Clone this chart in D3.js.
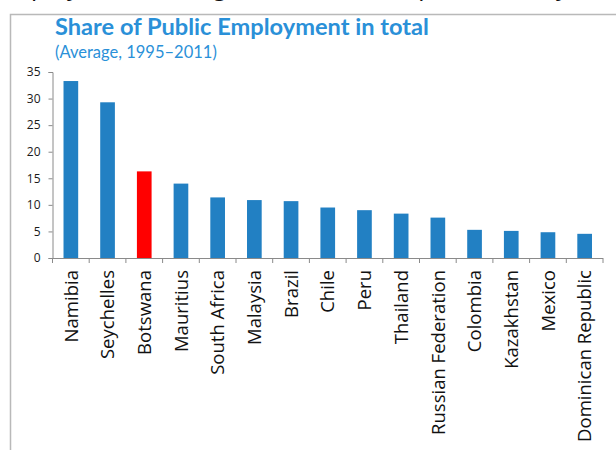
<!DOCTYPE html>
<html>
<head>
<meta charset="utf-8">
<script src="https://cdn.jsdelivr.net/npm/d3@7"></script>
<style>
  html, body { margin: 0; padding: 0; background: #ffffff; }
  svg { display: block; }
</style>
</head>
<body>
<svg id="chart" width="616" height="450"></svg>
<script>
// Share of public employment in total employment, average 1995–2011 (%)
const countries = [
  "Namibia", "Seychelles", "Botswana", "Mauritius", "South Africa",
  "Malaysia", "Brazil", "Chile", "Peru", "Thailand",
  "Russian Federation", "Colombia", "Kazakhstan", "Mexico", "Dominican Republic"
];
const shares = [33.3, 29.3, 16.3, 14.0, 11.4, 10.9, 10.7, 9.5, 9.0, 8.35, 7.6, 5.3, 5.1, 4.85, 4.55];
const highlighted = ["Botswana"];
const yTicks = [0, 5, 10, 15, 20, 25, 30, 35];
const titleText = "Share of Public Employment in total";
const subtitleText = "(Average, 1995–2011)";
const headingText = "employment among the countries to peers (survey)...";

const data = countries.map((c, i) => ({ country: c, value: shares[i] }));

const svg = d3.select("#chart");
const blue = "#2280c3";
const red = "#ff0000";
const axisGrey = "#8a8a8a";
const titleBlue = "#2a90d8";

// Slide heading running off the top edge
svg.append("text")
  .attr("x", -2).attr("y", -5)
  .attr("font-family", "Open Sans, sans-serif")
  .attr("font-style", "italic")
  .attr("font-size", 26)
  .attr("fill", "#111")
  .text(headingText);

// Frame around the chart panel
svg.append("path")
  .attr("d", "M10.5,450 V14.5 H616")
  .attr("fill", "none")
  .attr("stroke", "#b9b9b9")
  .attr("stroke-width", 1.5);

// Fit a text element to a given width by adjusting its font size
function fitWidth(sel, width) {
  const node = sel.node();
  const fs = parseFloat(sel.attr("font-size"));
  const w = node.getComputedTextLength();
  sel.attr("font-size", (fs * width / w).toFixed(2));
}

const title = svg.append("text")
  .attr("x", 55).attr("y", 35)
  .attr("font-family", "Lato, 'Open Sans', sans-serif")
  .attr("font-weight", "bold")
  .attr("font-size", 22)
  .attr("fill", titleBlue)
  .text(titleText);
fitWidth(title, 374);

const subtitle = svg.append("text")
  .attr("x", 55).attr("y", 57.5)
  .attr("font-family", "Lato, 'Open Sans', sans-serif")
  .attr("font-size", 15)
  .attr("fill", titleBlue)
  .text(subtitleText);
fitWidth(subtitle, 162);

// Scales
const x = d3.scaleBand()
  .domain(countries)
  .range([52.5, 603])
  .paddingInner(0.6)
  .paddingOuter(0.3);

const y = d3.scaleLinear()
  .domain([0, 35])
  .range([258, 72]);

// Bars
svg.append("g")
  .selectAll("rect")
  .data(data)
  .join("rect")
  .attr("x", d => x(d.country))
  .attr("y", d => y(d.value))
  .attr("width", x.bandwidth())
  .attr("height", d => y(0) - y(d.value))
  .attr("fill", d => highlighted.includes(d.country) ? red : blue);

// Y axis
const yAxis = svg.append("g")
  .attr("transform", "translate(52.5,0)")
  .call(d3.axisLeft(y).tickValues(yTicks).tickSize(4).tickPadding(8));
yAxis.select(".domain").attr("stroke", axisGrey);
yAxis.selectAll(".tick line").attr("stroke", axisGrey);
yAxis.selectAll(".tick text")
  .attr("font-family", "Open Sans, sans-serif")
  .attr("font-size", 12)
  .attr("fill", "#1a1a1a");

// X axis line and category separators
const step = x.step();
const xAxis = svg.append("g");
xAxis.append("line")
  .attr("x1", x.range()[0]).attr("x2", x.range()[1])
  .attr("y1", y(0) + 0.5).attr("y2", y(0) + 0.5)
  .attr("stroke", axisGrey).attr("stroke-width", 1.2);
const boundaries = countries.map(c => x(c) + x.bandwidth() / 2 - step / 2)
  .concat([x(countries[countries.length - 1]) + x.bandwidth() / 2 + step / 2]);
xAxis.selectAll("line.sep")
  .data(boundaries)
  .join("line")
  .attr("class", "sep")
  .attr("x1", d => d).attr("x2", d => d)
  .attr("y1", y(0)).attr("y2", y(0) + 5)
  .attr("stroke", axisGrey);

// Rotated category labels
const labels = xAxis.selectAll("text.cat")
  .data(countries)
  .join("text")
  .attr("class", "cat")
  .attr("font-family", "Open Sans, sans-serif")
  .attr("font-size", 17)
  .attr("fill", "#111")
  .attr("text-anchor", "end")
  .attr("dy", "0.36em")
  .attr("transform", d => `translate(${x(d) + x.bandwidth() / 2},${y(0) + 12}) rotate(-90)`)
  .text(d => d);

// Size the names so the longest one spans the space below the axis
const longest = labels.filter(d => d === "Dominican Republic");
const lw = longest.node().getComputedTextLength();
labels.attr("font-size", (17 * 172 / lw).toFixed(2));
</script>
</body>
</html>
